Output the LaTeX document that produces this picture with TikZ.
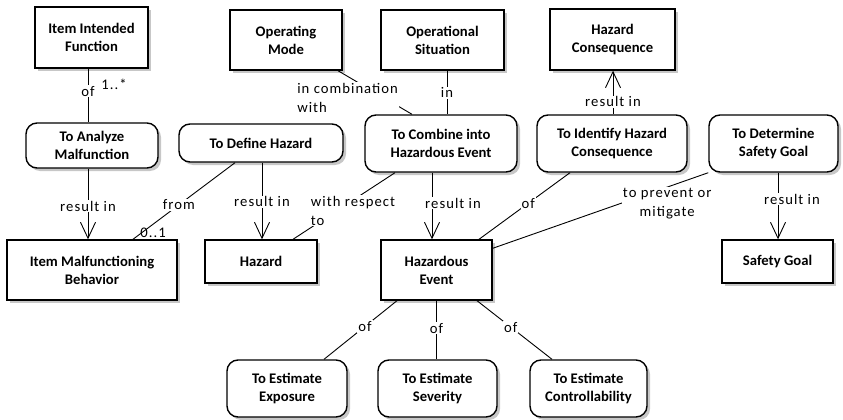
\documentclass[tikz,border=0pt]{standalone}
\usepackage{fontspec}
\setmainfont{Carlito}
\newfontfamily\lblfont{Carlito}[LetterSpace=7]
\usetikzlibrary{arrows.meta,shadows,calc}
\begin{document}
\begin{tikzpicture}[x=1pt,y=-1pt,
  base/.style={draw, line width=1.4pt, align=center, font=\bfseries\fontsize{14.67}{18}\selectfont, inner sep=2pt, fill=white,
    drop shadow={shadow xshift=3pt, shadow yshift=-3pt, fill=black!22, opacity=1}},
  blk/.style={base, rectangle},
  act/.style={base, rounded corners=11pt},
  conn/.style={line width=0.9pt},
  res/.style={conn, -{Straight Barb[length=16pt,width=15pt]}},
  lbl/.style={font=\lblfont\fontsize{14.67}{19}\selectfont, fill=white, inner sep=1pt},
]
\useasboundingbox (0,0) rectangle (843,420);

% top row
\node[blk, minimum width=113pt, minimum height=61pt] (iif) at (91.5,37.5) {Item Intended\\Function};
\node[blk, minimum width=112pt, minimum height=60pt] (opmode) at (286,40) {Operating\\Mode};
\node[blk, minimum width=123pt, minimum height=60pt] (opsit) at (442.5,40) {Operational\\Situation};
\node[blk, minimum width=125pt, minimum height=61pt] (hazcons) at (612.5,39.5) {Hazard\\Consequence};

% activities
\node[act, minimum width=132pt, minimum height=45pt] (analyze) at (92,145.5) {To Analyze\\Malfunction};
\node[act, minimum width=164pt, minimum height=38pt] (define) at (261,143) {To Define Hazard};
\node[act, minimum width=152pt, minimum height=57pt] (combine) at (441,143.5) {To Combine into\\Hazardous Event};
\node[act, minimum width=150pt, minimum height=57pt] (identify) at (612,143.5) {To Identify Hazard\\Consequence};
\node[act, minimum width=129pt, minimum height=57pt] (determine) at (773.5,143.5) {To Determine\\Safety Goal};

% middle row
\node[blk, minimum width=170pt, minimum height=60pt] (imb) at (92,270) {Item Malfunctioning\\Behavior};
\node[blk, minimum width=112pt, minimum height=43pt] (hazard) at (261,261.5) {Hazard};
\node[blk, minimum width=111pt, minimum height=60pt] (hazev) at (436.5,270) {Hazardous\\Event};
\node[blk, minimum width=111pt, minimum height=43pt] (safety) at (777.5,261.5) {Safety Goal};

% bottom row
\node[act, minimum width=120pt, minimum height=57pt] (exposure) at (287,388.5) {To Estimate\\Exposure};
\node[act, minimum width=119pt, minimum height=57pt] (severity) at (437.5,388.5) {To Estimate\\Severity};
\node[act, minimum width=117pt, minimum height=57pt] (control) at (588.5,388.5) {To Estimate\\Controllability};

% connectors
\draw[conn] ([xshift=-3.5pt]iif.south) -- ([xshift=-3.5pt]iif.south |- analyze.north)
  node[lbl,pos=0.42]{of}
  node[lbl,pos=0.3,anchor=west,xshift=12pt,fill=none]{1..*};
\draw[res] ([xshift=-4pt]analyze.south) -- ([xshift=-4pt]analyze.south |- imb.north)
  node[lbl,pos=0.53]{result in};
\draw[conn] ([xshift=-26pt]define.south) -- ([xshift=41pt]imb.north)
  node[lbl,pos=0.55]{from}
  node[lbl,pos=1,anchor=south west,xshift=6pt,fill=none]{0..1};
\draw[res] ([xshift=1pt]define.south) -- ([xshift=1pt]define.south |- hazard.north)
  node[lbl,pos=0.51]{result in};
\draw[conn] ([xshift=-46pt]combine.south) -- ([xshift=32pt]hazard.north)
  node[lbl,pos=0.5,align=left,xshift=9pt,yshift=-4.5pt]{with respect\\to};
\draw[conn] ([xshift=52pt]opmode.south) -- ([xshift=-29pt]combine.north)
  node[lbl,pos=0.4,align=left,xshift=-20pt,yshift=-9.5pt]{in combination\\with};
\draw[conn] ([xshift=4.5pt]opsit.south) -- ([xshift=4.5pt]opsit.south |- combine.north)
  node[lbl,pos=0.51]{in};
\draw[res] ([xshift=-9pt]combine.south) -- ([xshift=-9pt]combine.south |- hazev.north)
  node[lbl,pos=0.46,xshift=21pt]{result in};
\draw[conn] ([xshift=-42pt]identify.south) -- ([xshift=42.5pt]hazev.north)
  node[lbl,pos=0.46]{of};
\draw[res] ([xshift=1pt]identify.north) -- ([xshift=1pt]identify.north |- hazcons.south)
  node[lbl,pos=0.29]{result in};
\draw[conn] (determine.south west) -- ([yshift=-9pt]hazev.north east)
  node[lbl,pos=0.2,align=center,xshift=2pt,yshift=-15.6pt]{to prevent or\\mitigate};
\draw[res] ([xshift=4.5pt]determine.south) -- ([xshift=4.5pt]determine.south |- safety.north)
  node[lbl,pos=0.4,xshift=14pt]{result in};
\draw[conn] ([xshift=-39.5pt]hazev.south) -- ([xshift=37pt]exposure.north)
  node[lbl,pos=0.44]{of};
\draw[conn] (hazev.south) -- (hazev.south |- severity.north)
  node[lbl,pos=0.47]{of};
\draw[conn] ([xshift=40.5pt]hazev.south) -- ([xshift=-36.5pt]control.north)
  node[lbl,pos=0.45]{of};
\end{tikzpicture}
\end{document}
